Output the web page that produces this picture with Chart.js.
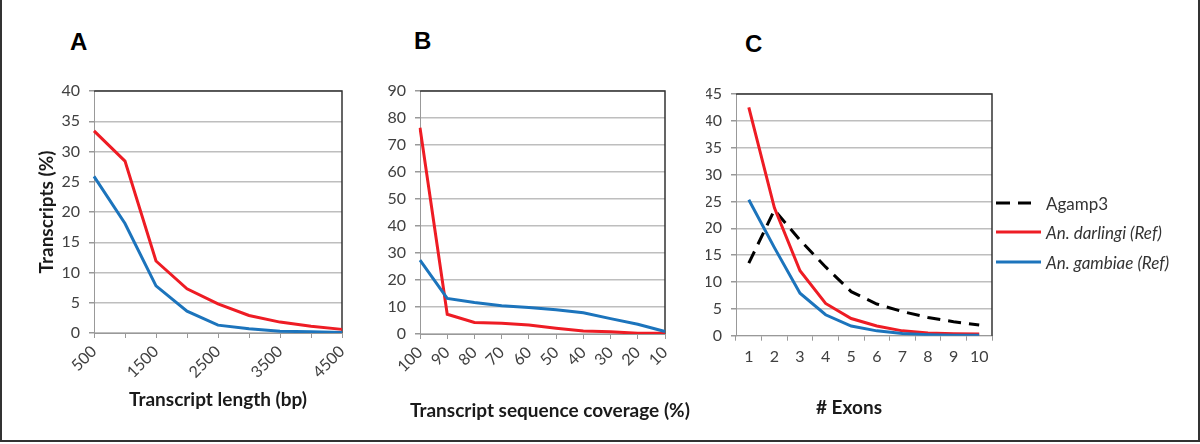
<!DOCTYPE html>
<html>
<head>
<meta charset="utf-8">
<script src="https://cdn.jsdelivr.net/npm/chart.js@4"></script>
<style>
  html, body { margin: 0; padding: 0; background: #fff; }
  #page { position: relative; width: 1200px; height: 444px; overflow: hidden; background: #fff; }
  #frame { position: absolute; left: 0; top: -4px; width: 1200px; height: 446px; border: 2px solid #333; box-sizing: border-box; }
  .panel { position: absolute; top: 0; height: 444px; }
  .letter { position: absolute; font-family: 'Liberation Sans', Arial, sans-serif; font-weight: bold; font-size: 24px; line-height: 24px; color: #000; }
  .axis-title { position: absolute; font-family: Lato, sans-serif; font-weight: bold; font-size: 19px; line-height: 22px; color: #1a1a1a; white-space: nowrap; }
  #legend { position: absolute; left: 996px; top: 0; font-family: Lato, sans-serif; font-size: 17px; color: #333; }
  .leg-item { position: absolute; left: 0; display: flex; align-items: center; white-space: nowrap; }
  .leg-item svg { margin-right: 5px; }
</style>
</head>
<body>
<div id="page">
  <div id="frame"></div>
  <div class="letter" style="left:70px; top:30px;">A</div>
  <div class="letter" style="left:414px; top:29px;">B</div>
  <div class="letter" style="left:745px; top:32px;">C</div>
  <div class="panel" style="left:0; width:380px;"><canvas id="chartA"></canvas></div>
  <div class="panel" style="left:380px; width:310px;"><canvas id="chartB"></canvas></div>
  <div class="panel" style="left:700px; width:300px;"><canvas id="chartC"></canvas></div>
  <div class="axis-title" id="titleB" style="left:410px; top:399px;"></div>
  <div id="legend"></div>
</div>
<script>
// Panel A - transcript length
const lengthLabels = ['500', '1000', '1500', '2000', '2500', '3000', '3500', '4000', '4500'];
const lengthDarlingi = [33.4, 28.4, 11.9, 7.3, 4.8, 2.9, 1.8, 1.1, 0.6];
const lengthGambiae = [25.9, 18.1, 7.8, 3.6, 1.3, 0.7, 0.3, 0.2, 0.1];

// Panel B - sequence coverage
const coverageLabels = ['100', '90', '80', '70', '60', '50', '40', '30', '20', '10'];
const coverageDarlingi = [76.4, 7.3, 4.3, 4.0, 3.3, 2.1, 1.1, 0.8, 0.3, 0.3];
const coverageGambiae = [27.4, 13.2, 11.7, 10.5, 9.8, 9.0, 7.9, 5.7, 3.6, 0.9];
const coverageTitle = 'Transcript sequence coverage (%)';

// Panel C - exon counts
const exonLabels = ['1', '2', '3', '4', '5', '6', '7', '8', '9', '10'];
const exonAgamp3 = [13.5, 23.4, 17.8, 12.8, 8.2, 5.9, 4.5, 3.4, 2.6, 2.0];
const exonDarlingi = [42.5, 23.8, 12.1, 6.0, 3.2, 1.8, 0.9, 0.5, 0.35, 0.3];
const exonGambiae = [25.3, 16.4, 7.9, 3.9, 1.8, 0.9, 0.4, 0.2, 0.1, 0.1];

const RED = '#ee1c24';
const BLUE = '#1c74bc';
const BLACK = '#000000';
const GRID = '#bebebe';
const AXIS = '#999999';
const TEXT = '#404040';
const TITLE_FONT = { family: 'Lato', size: 19, weight: 'bold' };

// dark top + right edge of the plot area
const plotEdges = {
    id: 'plotEdges',
    beforeDatasetsDraw(chart) {
        const a = chart.chartArea;
        const ctx = chart.ctx;
        ctx.save();
        ctx.strokeStyle = '#333';
        ctx.lineWidth = 1.5;
        ctx.beginPath();
        ctx.moveTo(a.left, a.top);
        ctx.lineTo(a.right, a.top);
        ctx.lineTo(a.right, a.bottom);
        ctx.stroke();
        ctx.restore();
    }
};

function series(label, data, color, dash) {
    return {
        label: label,
        data: data,
        borderColor: color,
        backgroundColor: color,
        borderWidth: 3,
        borderDash: dash || [],
        pointRadius: 0,
        tension: 0,
        fill: false
    };
}

// cfg.xTitle -> scale title (centred on plot), cfg.bottomTitle -> chart title under the axis
function makeOptions(cfg) {
    return {
        responsive: true,
        maintainAspectRatio: false,
        animation: false,
        layout: { padding: cfg.padding },
        plugins: {
            legend: { display: false },
            tooltip: { enabled: false },
            title: {
                display: !!cfg.bottomTitle,
                text: cfg.bottomTitle || '',
                position: 'bottom',
                color: '#1a1a1a',
                padding: 0,
                font: TITLE_FONT
            }
        },
        scales: {
            x: {
                offset: cfg.offset,
                grid: { drawOnChartArea: false, drawTicks: true, tickLength: 5, color: AXIS, offset: cfg.offset },
                border: { color: AXIS, width: 1 },
                ticks: {
                    autoSkip: false,
                    maxRotation: cfg.rotate,
                    minRotation: cfg.rotate,
                    padding: cfg.xPad,
                    color: TEXT,
                    font: { family: 'Lato', size: 16 },
                    callback: cfg.xCallback
                },
                title: {
                    display: !!cfg.xTitle,
                    text: cfg.xTitle || '',
                    color: '#1a1a1a',
                    padding: 0,
                    font: TITLE_FONT
                },
                afterFit: s => { s.height = cfg.xHeight; }
            },
            y: {
                min: 0,
                max: cfg.yMax,
                grid: { color: GRID, lineWidth: 1.5, tickLength: 5, tickColor: AXIS },
                border: { color: AXIS, width: 1 },
                ticks: {
                    stepSize: cfg.yStep,
                    padding: 9,
                    color: TEXT,
                    font: { family: 'Lato', size: 16 }
                },
                title: {
                    display: !!cfg.yTitle,
                    text: cfg.yTitle || '',
                    color: '#1a1a1a',
                    padding: 0,
                    font: TITLE_FONT
                },
                afterFit: s => { s.width = cfg.yWidth; }
            }
        }
    };
}

new Chart(document.getElementById('chartA'), {
    type: 'line',
    data: {
        labels: lengthLabels,
        datasets: [
            series('An. gambiae (Ref)', lengthGambiae, BLUE),
            series('An. darlingi (Ref)', lengthDarlingi, RED)
        ]
    },
    options: makeOptions({
        padding: { left: 35, right: 38, top: 91, bottom: 32.6 },
        offset: false,
        rotate: 45,
        xPad: 4,
        xCallback: function(value, index) { return index % 2 === 0 ? this.getLabelForValue(value) : ''; },
        xTitle: 'Transcript length (bp)',
        xHeight: 78.4,
        yMax: 40, yStep: 5,
        yTitle: 'Transcripts (%)',
        yWidth: 59
    }),
    plugins: [plotEdges]
});

// the coverage title is wider than the plot, so it sits in the page as text
document.getElementById('titleB').textContent = coverageTitle;

new Chart(document.getElementById('chartB'), {
    type: 'line',
    data: {
        labels: coverageLabels,
        datasets: [
            series('An. gambiae (Ref)', coverageGambiae, BLUE),
            series('An. darlingi (Ref)', coverageDarlingi, RED)
        ]
    },
    options: makeOptions({
        padding: { left: 0, right: 25, top: 91, bottom: 24 },
        offset: false,
        rotate: 45,
        xPad: 4,
        xCallback: function(value) { return this.getLabelForValue(value); },
        xHeight: 86,
        yMax: 90, yStep: 10,
        yWidth: 40
    }),
    plugins: [plotEdges]
});

const exonSets = [
    series('Agamp3', exonAgamp3, BLACK, [13, 8]),
    series('An. darlingi (Ref)', exonDarlingi, RED),
    series('An. gambiae (Ref)', exonGambiae, BLUE)
];

new Chart(document.getElementById('chartC'), {
    type: 'line',
    data: {
        labels: exonLabels,
        datasets: exonSets.slice().reverse()
    },
    options: makeOptions({
        padding: { left: 6, right: 8, top: 94, bottom: 24.6 },
        offset: true,
        rotate: 0,
        xPad: 7,
        xCallback: function(value) { return this.getLabelForValue(value); },
        bottomTitle: '# Exons',
        xHeight: 60.9,
        yMax: 45, yStep: 5,
        yWidth: 30
    }),
    plugins: [plotEdges]
});

// legend for panel C (species names in italics)
const legendTops = [203, 232, 262];
const legendBox = document.getElementById('legend');
exonSets.forEach((ds, i) => {
    const item = document.createElement('div');
    item.className = 'leg-item';
    item.style.top = (legendTops[i] - 11) + 'px';
    item.style.height = '22px';
    const dash = ds.borderDash.length ? ' stroke-dasharray="14 8 13 20"' : '';
    item.innerHTML = `<svg width="45" height="6"><line x1="0" y1="3" x2="45" y2="3" stroke="${ds.borderColor}" stroke-width="3"${dash}/></svg>` +
        `<span style="font-style:${ds.label.startsWith('An.') ? 'italic' : 'normal'}">${ds.label}</span>`;
    legendBox.appendChild(item);
});
</script>
</body>
</html>
